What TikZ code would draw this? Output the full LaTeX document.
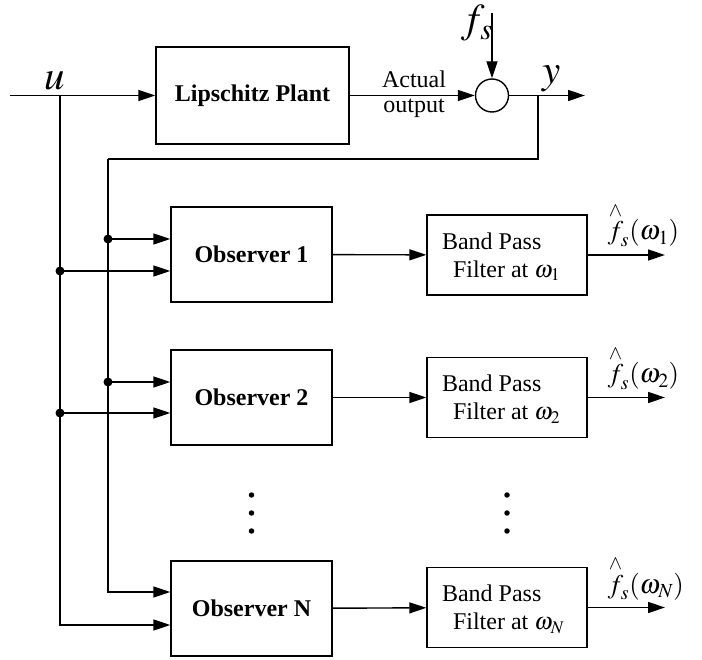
\documentclass[tikz,border=0pt]{standalone}
\usepackage{amsmath}
\usepackage{mathptmx}
\usepackage{fontspec}
\setmainfont{Liberation Serif}
\usetikzlibrary{arrows.meta}
\begin{document}
\begin{tikzpicture}[x=1pt,y=-1pt,
  line width=1.4pt,
  >={Triangle[length=17pt,width=11pt]},
  blk/.style={draw, minimum width=161pt, minimum height=95pt, font=\fontsize{24}{28}\selectfont\bfseries, inner sep=0pt},
  bpf/.style={draw, minimum width=160pt, minimum height=80pt, inner sep=0pt},
  txt/.style={font=\fontsize{24}{28}\selectfont, inner sep=0pt},
  big/.style={font=\fontsize{41}{44}\selectfont, inner sep=0pt},
  outl/.style={font=\fontsize{27}{30}\selectfont, inner sep=0pt, anchor=base west},
  jdot/.style={circle, fill, inner sep=0pt, minimum size=9pt},
  edot/.style={circle, fill, inner sep=0pt, minimum size=5.5pt}]
\useasboundingbox (0,0) rectangle (702,660);

% top row
\node[blk, minimum width=193pt, minimum height=97pt] (plant) at (252.5,95.5) {Lipschitz Plant};
\node[circle, draw, minimum size=33pt, inner sep=0pt] (sum) at (492,95.5) {};
\coordinate (uin) at (10,95.5);
\coordinate (uj) at (60,95.5);
\coordinate (fstop) at (492,13);
\coordinate (yj) at (538,95.5);
\coordinate (yout) at (585,95.5);
\coordinate (fbc) at (108,159);

\draw[->] (uin) -- (plant.west);
\draw[->] (plant) -- (sum);
\draw[->] (fstop) -- (sum);
\draw[->] (sum) -- (yout);

\node[big, anchor=base] (ulab) at (55,90) {$u$};
\node[big, anchor=base] (ylab) at (552,84) {$y$};
\node[big, anchor=base west] (fslab) at (461,33) {$f_s$};
\node[txt, anchor=base] (act) at (414,88) {Actual};
\node[txt, anchor=base] (outp) at (414,113) {output};

% observers
\node[blk] (o1) at (251.5,254.5) {Observer 1};
\node[blk] (o2) at (251.5,397.5) {Observer 2};
\node[blk] (oN) at (251.5,608.5) {Observer N};

% band pass filters
\node[bpf] (b1) at (507,255) {};
\node[bpf] (b2) at (507,397.5) {};
\node[bpf] (bN) at (507,607.5) {};
\foreach \b/\w in {b1/1,b2/2,bN/N}{
  \node[txt, anchor=base west] at ([xshift=15pt,yshift=-35pt]\b.north west) {Band Pass};
  \node[txt, anchor=base west] at ([xshift=26pt,yshift=-63pt]\b.north west) {Filter at $\omega_{\w}$};
}

\draw[->] (o1) -- (b1);
\draw[->] (o2) -- (b2);
\draw[->] (oN) -- (bN);

% outputs
\coordinate (e1) at (665,255);
\coordinate (e2) at (665,397.5);
\coordinate (eN) at (665,607.5);
\draw[->] (b1) -- (e1);
\draw[->] (b2) -- (e2);
\draw[->] (bN) -- (eN);
\node[outl] (l1) at (607,240) {$\overset{\wedge}{f}_{\!s}(\omega_1)$};
\node[outl] (l2) at (607,383) {$\overset{\wedge}{f}_{\!s}(\omega_2)$};
\node[outl] (lN) at (607,593) {$\overset{\wedge}{f}_{\!s}(\omega_N)$};

% junction dots
\node[jdot] (d1) at (108,239) {};
\node[jdot] (d2) at (108,382) {};
\node[jdot] (u1) at (60,271) {};
\node[jdot] (u2) at (60,413) {};
\coordinate (fN) at (108,592);
\coordinate (uN) at (60,625);

\draw (yj) |- (fbc);
\draw[->] (fbc) -- (fN) -- (fN -| oN.west);
\draw[->] (uj) -- (uN) -- (uN -| oN.west);
\draw[->] (d1.center) -- (d1.center -| o1.west);
\draw[->] (d2.center) -- (d2.center -| o2.west);
\draw[->] (u1.center) -- (u1.center -| o1.west);
\draw[->] (u2.center) -- (u2.center -| o2.west);

% ellipsis dots
\foreach \yy [count=\i] in {495,513,531}{
  \node[edot] (ea\i) at (251.5,\yy) {};
  \node[edot] (eb\i) at (507,\yy) {};
}
\end{tikzpicture}
\end{document}
